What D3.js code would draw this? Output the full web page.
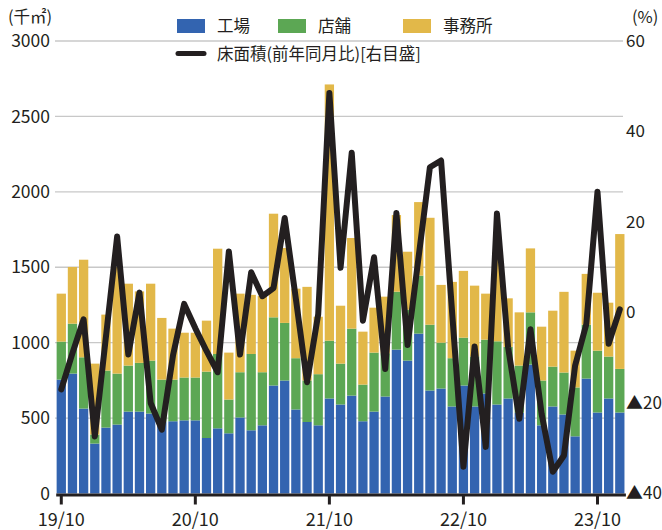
<!DOCTYPE html>
<html>
<head>
<meta charset="utf-8">
<script src="https://cdn.jsdelivr.net/npm/d3@7"></script>
<style>
  body { margin: 0; background: #fff; }
  text { font-family: "Noto Sans CJK JP", "Noto Sans", sans-serif; fill: #231f20; }
</style>
</head>
<body>
<div id="graph"></div>
<script>
var months = [
    '19/10','19/11','19/12','20/01','20/02','20/03','20/04','20/05','20/06','20/07','20/08','20/09',
    '20/10','20/11','20/12','21/01','21/02','21/03','21/04','21/05','21/06','21/07','21/08','21/09',
    '21/10','21/11','21/12','22/01','22/02','22/03','22/04','22/05','22/06','22/07','22/08','22/09',
    '22/10','22/11','22/12','23/01','23/02','23/03','23/04','23/05','23/06','23/07','23/08','23/09',
    '23/10','23/11','23/12'
];
var tickLabels = ['19/10', '20/10', '21/10', '22/10', '23/10'];

// 千㎡
var factory = [755, 795, 563, 331, 437, 457, 543, 543, 530, 474, 479, 485,
    485, 368, 432, 399, 504, 419, 452, 716, 749, 557, 474, 452,
    630, 590, 649, 479, 543, 643, 954, 881, 1060, 683, 696, 577,
    716, 577, 663, 590, 630, 535, 855, 452, 577, 524, 379, 762,
    537, 630, 537];
var store = [252, 331, 340, 60, 378, 338, 305, 323, 351, 281, 276, 284,
    284, 440, 493, 224, 300, 506, 352, 452, 382, 340, 275, 339,
    383, 271, 444, 243, 391, 287, 384, 338, 384, 436, 304, 320,
    317, 331, 357, 419, 342, 313, 346, 297, 264, 278, 324, 357,
    410, 278, 289];
var office = [318, 376, 647, 470, 371, 707, 543, 474, 510, 409, 338, 297,
    297, 338, 698, 311, 521, 392, 506, 687, 497, 461, 621, 381,
    1699, 384, 601, 351, 298, 375, 508, 384, 488, 709, 383, 506,
    443, 470, 305, 591, 322, 353, 424, 357, 371, 535, 244, 337,
    384, 357, 894];
// %
var yoy = [-17, -9, -1.5, -27.4, -5.3, 16.8, -9.3, 4.4, -20, -25.9, -9.5, 1.9,
    -3.5, -8.5, -13.2, 13.5, -9.3, 8.9, 3.6, 5.4, 20.9, 3, -15.4, -0.4,
    48.5, 9.9, 35.3, -1.8, 12.2, -12.5, 22, -7.2, 12.5, 32.1, 33.6, -0.4,
    -34.1, -7.5, -29.7, 21.9, -7.7, -23.5, -3.7, -22.4, -35.2, -31.6, -11.7, -2.6,
    26.7, -6.9, 0.7];

var seriesKeys = ['factory', 'store', 'office'];
var seriesNames = ['工場', '店舗', '事務所'];
var colors = ['#3364b0', '#5ca754', '#e2b849'];
var leftTicks = [0, 500, 1000, 1500, 2000, 2500, 3000];
var rightTicks = [-40, -20, 0, 20, 40, 60];

var width = 662,
    height = 530,
    plotLeft = 55.7,
    plotRight = 625.4,
    plotTop = 41,
    plotBottom = 493.5;

var table = months.map(function(m, i) {
    return { month: m, factory: factory[i], store: store[i], office: office[i], yoy: yoy[i] };
});

var svg = d3.select('#graph')
    .append('svg')
        .attr('width', width)
        .attr('height', height);

var x = d3.scaleBand()
    .domain(months)
    .range([plotLeft, plotRight])
    .paddingInner(0.167)
    .paddingOuter(0.0835);

var y = d3.scaleLinear()
    .domain([0, 3000])
    .range([plotBottom, plotTop]);

var y2 = d3.scaleLinear()
    .domain([-40, 60])
    .range([plotBottom, plotTop]);

// grid
svg.append('g')
    .selectAll('line')
    .data(leftTicks.slice(1))
    .join('line')
        .attr('x1', 55)
        .attr('x2', 623)
        .attr('y1', function(d) { return y(d); })
        .attr('y2', function(d) { return y(d); })
        .attr('stroke', '#c8c8c8')
        .attr('stroke-width', 1.3);

// left axis
var leftAxis = svg.append('g')
    .attr('transform', 'translate(' + 55 + ',0)')
    .call(d3.axisLeft(y).tickValues(leftTicks).tickSize(0).tickPadding(5).tickFormat(d3.format('d')));
leftAxis.select('.domain').remove();
leftAxis.selectAll('text')
    .style('font-size', '17.5px')
    .style('font-family', '"Noto Sans CJK JP", sans-serif')
    .attr('fill', '#231f20');

// right axis
var rightAxis = svg.append('g')
    .attr('transform', 'translate(' + 623 + ',0)')
    .call(d3.axisRight(y2).tickValues(rightTicks).tickSize(0).tickPadding(3)
        .tickFormat(function(d) { return d < 0 ? '▲' + Math.abs(d) : d; }));
rightAxis.select('.domain').remove();
rightAxis.selectAll('text')
    .style('font-size', '17px')
    .style('font-family', '"Noto Sans CJK JP", sans-serif')
    .attr('fill', '#231f20');

// bars
var stacked = d3.stack().keys(seriesKeys)(table);
svg.append('g')
    .selectAll('g')
    .data(stacked)
    .join('g')
        .attr('fill', function(d, i) { return colors[i]; })
    .selectAll('rect')
    .data(function(d) { return d; })
    .join('rect')
        .attr('x', function(d) { return x(d.data.month); })
        .attr('y', function(d) { return y(d[1]); })
        .attr('width', x.bandwidth())
        .attr('height', function(d) { return y(d[0]) - y(d[1]); });

// bottom axis
var bottomAxis = svg.append('g')
    .attr('transform', 'translate(0,' + (plotBottom + 1) + ')')
    .call(d3.axisBottom(x).tickValues(tickLabels).tickSizeInner(10).tickSizeOuter(0).tickPadding(9));
bottomAxis.select('.domain')
    .attr('stroke', '#231f20')
    .attr('stroke-width', 3);
bottomAxis.selectAll('.tick line')
    .attr('stroke', '#231f20')
    .attr('stroke-width', 3);
bottomAxis.selectAll('text')
    .style('font-size', '18px')
    .style('font-family', '"Noto Sans CJK JP", sans-serif')
    .attr('fill', '#231f20');

// yoy line
var line = d3.line()
    .x(function(d) { return x(d.month) + x.bandwidth() / 2; })
    .y(function(d) { return y2(d.yoy); });
svg.append('path')
    .datum(table)
    .attr('d', line)
    .attr('fill', 'none')
    .attr('stroke', '#231f20')
    .attr('stroke-width', 6)
    .attr('stroke-linejoin', 'round')
    .attr('stroke-linecap', 'round');

// unit labels
svg.append('text')
    .attr('x', 8)
    .attr('y', 23)
    .style('font-size', '16.5px')
    .text('(千㎡)');
svg.append('text')
    .attr('x', 632)
    .attr('y', 23)
    .style('font-size', '16.5px')
    .text('(%)');

// legend
var legendX = [177, 278, 403];
var legend = svg.append('g');
legend.selectAll('rect')
    .data(seriesNames)
    .join('rect')
        .attr('x', function(d, i) { return legendX[i]; })
        .attr('y', 19)
        .attr('width', 28)
        .attr('height', 14)
        .attr('fill', function(d, i) { return colors[i]; });
legend.selectAll('text.series')
    .data(seriesNames)
    .join('text')
        .attr('class', 'series')
        .attr('x', function(d, i) { return legendX[i] + 40; })
        .attr('y', 32)
        .style('font-size', '16.5px')
        .text(function(d) { return d; });
legend.append('line')
    .attr('x1', 178)
    .attr('x2', 204)
    .attr('y1', 53.5)
    .attr('y2', 53.5)
    .attr('stroke', '#231f20')
    .attr('stroke-width', 5)
    .attr('stroke-linecap', 'round');
legend.append('text')
    .attr('x', 217)
    .attr('y', 60)
    .style('font-size', '16.5px')
    .text('床面積(前年同月比)[右目盛]');
</script>
</body>
</html>
